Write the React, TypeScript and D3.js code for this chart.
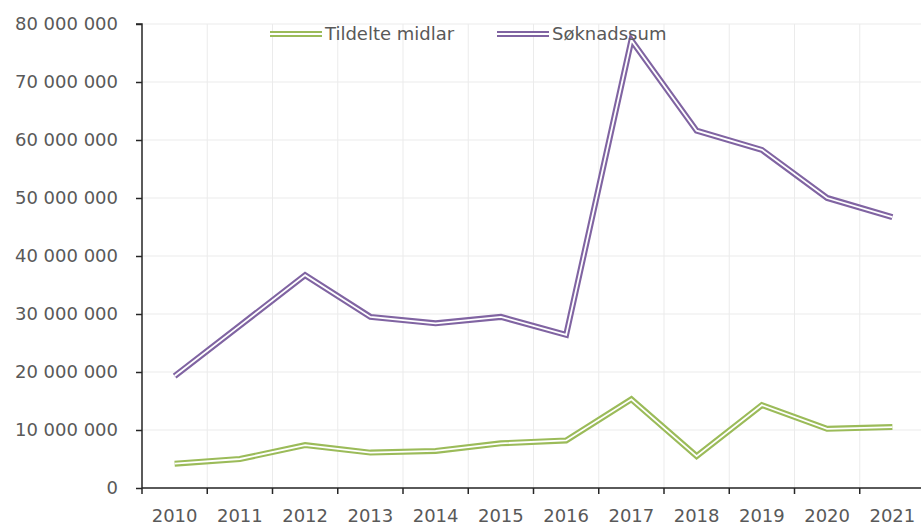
import React, { useRef, useEffect } from "react";
import * as d3 from "d3";

const years = ["2010", "2011", "2012", "2013", "2014", "2015", "2016", "2017", "2018", "2019", "2020", "2021"];
const tildelte = [4200000, 5000000, 7400000, 6100000, 6400000, 7700000, 8200000, 15300000, 5500000, 14300000, 10200000, 10500000];
const soknadssum = [19300000, 28000000, 36700000, 29500000, 28400000, 29500000, 26400000, 77200000, 61600000, 58300000, 50000000, 46700000];
const yTicks = [0, 10000000, 20000000, 30000000, 40000000, 50000000, 60000000, 70000000, 80000000];

const series = [
  { name: "Tildelte midlar", values: tildelte, color: "#9bbb59" },
  { name: "Søknadssum", values: soknadssum, color: "#8064a2" },
];

const App = () => {
  const svgRef = useRef<SVGSVGElement>(null);

  useEffect(() => {
    const svg = d3.select(svgRef.current);
    svg.selectAll("*").remove();

    const margin = { top: 24, right: 0, bottom: 38, left: 142 };
    const width = 921;
    const height = 526;
    const font = "'DejaVu Sans', sans-serif";
    const textColor = "#595959";

    const x = d3.scaleBand().domain(years).range([margin.left, 925]);
    const y = d3.scaleLinear().domain([0, 80000000]).range([height - margin.bottom, margin.top]);

    // grid
    const grid = svg.append("g");
    grid
      .selectAll(".hg")
      .data(yTicks)
      .enter()
      .append("line")
      .attr("x1", margin.left)
      .attr("x2", width)
      .attr("y1", (d) => y(d))
      .attr("y2", (d) => y(d))
      .attr("stroke", "#ebebeb")
      .attr("stroke-width", 1);
    grid
      .selectAll(".vg")
      .data(years.slice(1).concat(["end"]))
      .enter()
      .append("line")
      .attr("x1", (d, i) => margin.left + x.bandwidth() * (i + 1))
      .attr("x2", (d, i) => margin.left + x.bandwidth() * (i + 1))
      .attr("y1", margin.top)
      .attr("y2", y(0))
      .attr("stroke", "#ebebeb")
      .attr("stroke-width", 1);

    // lines (double style: thick colour stroke + thin white core)
    const line = d3
      .line<number>()
      .x((d, i) => (x(years[i]) as number) + x.bandwidth() / 2)
      .y((d) => y(d));

    series.forEach((s) => {
      svg
        .append("path")
        .attr("d", line(s.values))
        .attr("fill", "none")
        .attr("stroke", s.color)
        .attr("stroke-width", 6)
        .attr("stroke-linejoin", "miter");
      svg
        .append("path")
        .attr("d", line(s.values))
        .attr("fill", "none")
        .attr("stroke", "#ffffff")
        .attr("stroke-width", 1.8)
        .attr("stroke-linejoin", "miter");
    });

    // y axis
    const yAxis = d3
      .axisLeft(y)
      .tickValues(yTicks)
      .tickSize(6)
      .tickPadding(18)
      .tickFormat((d) => d3.format(",")(d as number).replace(/,/g, " "));
    const yg = svg.append("g").attr("transform", `translate(${margin.left},0)`).call(yAxis);
    yg.select(".domain").attr("stroke", "#262626").attr("stroke-width", 1.5).attr("d", `M-6,${margin.top}H0V${y(0)}`);
    yg.selectAll(".tick line").attr("stroke", "#262626").attr("stroke-width", 1.5);
    yg.selectAll("text").attr("fill", textColor).style("font-family", font).style("font-size", "18px");

    // x axis
    const xAxis = d3.axisBottom(x).tickSize(0).tickPadding(21);
    const xg = svg.append("g").attr("transform", `translate(0,${y(0)})`).call(xAxis);
    xg.select(".domain").attr("stroke", "#262626").attr("stroke-width", 1.5).attr("d", `M${margin.left},0H${width}`);
    xg.selectAll("text").attr("fill", textColor).style("font-family", font).style("font-size", "18px");
    xg.selectAll(".xt")
      .data(years)
      .enter()
      .append("line")
      .attr("x1", (d) => x(d) as number)
      .attr("x2", (d) => x(d) as number)
      .attr("y1", 0)
      .attr("y2", 6)
      .attr("stroke", "#262626")
      .attr("stroke-width", 1.5);

    // legend
    const legendX = [270, 497];
    series.forEach((s, i) => {
      const g = svg.append("g").attr("transform", `translate(${legendX[i]},34)`);
      g.append("line").attr("x1", 0).attr("x2", 52).attr("y1", 0).attr("y2", 0).attr("stroke", s.color).attr("stroke-width", 6);
      g.append("line").attr("x1", 0).attr("x2", 52).attr("y1", 0).attr("y2", 0).attr("stroke", "#fff").attr("stroke-width", 1.8);
      g.append("text")
        .attr("x", 55)
        .attr("y", 0)
        .attr("dy", "0.35em")
        .attr("fill", textColor)
        .style("font-family", font)
        .style("font-size", "18px")
        .text(s.name);
    });
  }, []);

  return (
    <svg
      ref={svgRef}
      width="921"
      height="526"
      style={{ position: "absolute", left: 0, top: 0, background: "#fff" }}
    />
  );
};

export default App;
